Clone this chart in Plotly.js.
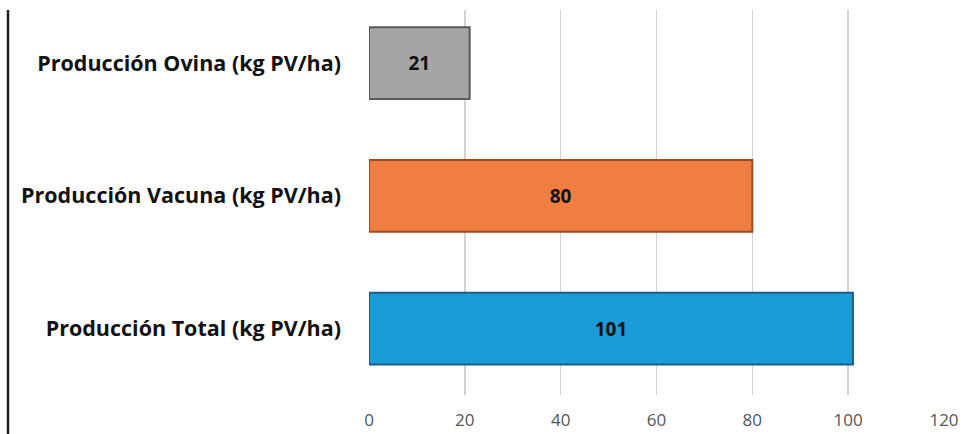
<!DOCTYPE html>
<html><head><meta charset="utf-8">
<script src="https://cdn.plot.ly/plotly-3.0.1.min.js"></script>
<style>html,body{margin:0;padding:0;background:#fff;}#chart{width:964px;height:434px;}</style>
</head><body><div id="chart"></div>
<script>
const categories = ["Producción Total (kg PV/ha)", "Producción Vacuna (kg PV/ha)", "Producción Ovina (kg PV/ha)"];
const values = [101, 80, 21];
const barColors = ["#1b9bd7", "#f07d41", "#a5a5a5"];
const borderColors = ["#1d5f86", "#9c4a1f", "#5a5a5a"];
const xTicks = [0, 20, 40, 60, 80, 100, 120];

const trace = {
  type: "bar",
  orientation: "h",
  y: categories,
  x: values,
  width: 0.54,
  marker: {color: barColors, line: {color: borderColors, width: 2}},
  text: values.map(String),
  textposition: "inside",
  insidetextanchor: "middle",
  textfont: {family: "'Open Sans', sans-serif", size: 19, color: "#111", weight: "bold"},
  hoverinfo: "none"
};

const layout = {
  width: 964, height: 434,
  margin: {l: 369, r: 20, t: 10, b: 39},
  paper_bgcolor: "#fff", plot_bgcolor: "#fff",
  showlegend: false,
  xaxis: {
    range: [0, 120], tickvals: xTicks, ticktext: xTicks.map(String),
    showgrid: true, gridcolor: "#d9d2cc", gridwidth: 1.5,
    zeroline: false, showline: false,
    tickfont: {family: "'Open Sans', sans-serif", size: 17, color: "#555"},
    ticks: "", ticklabelstandoff: 13
  },
  yaxis: {
    type: "category", range: [-0.5, 2.4],
    showgrid: false, zeroline: false, showline: false,
    ticks: "", ticklabelstandoff: 27,
    tickfont: {family: "'Open Sans', sans-serif", size: 21.5, color: "#111", weight: "bold"}
  },
  shapes: [{
    type: "line", xref: "paper", yref: "paper",
    x0: (8 - 369) / 575, x1: (8 - 369) / 575, y0: 0 - 39/385, y1: 1,
    line: {color: "#222", width: 2.5}
  }]
};
Plotly.newPlot("chart", [trace], layout, {displayModeBar: false, staticPlot: true});
</script></body></html>
